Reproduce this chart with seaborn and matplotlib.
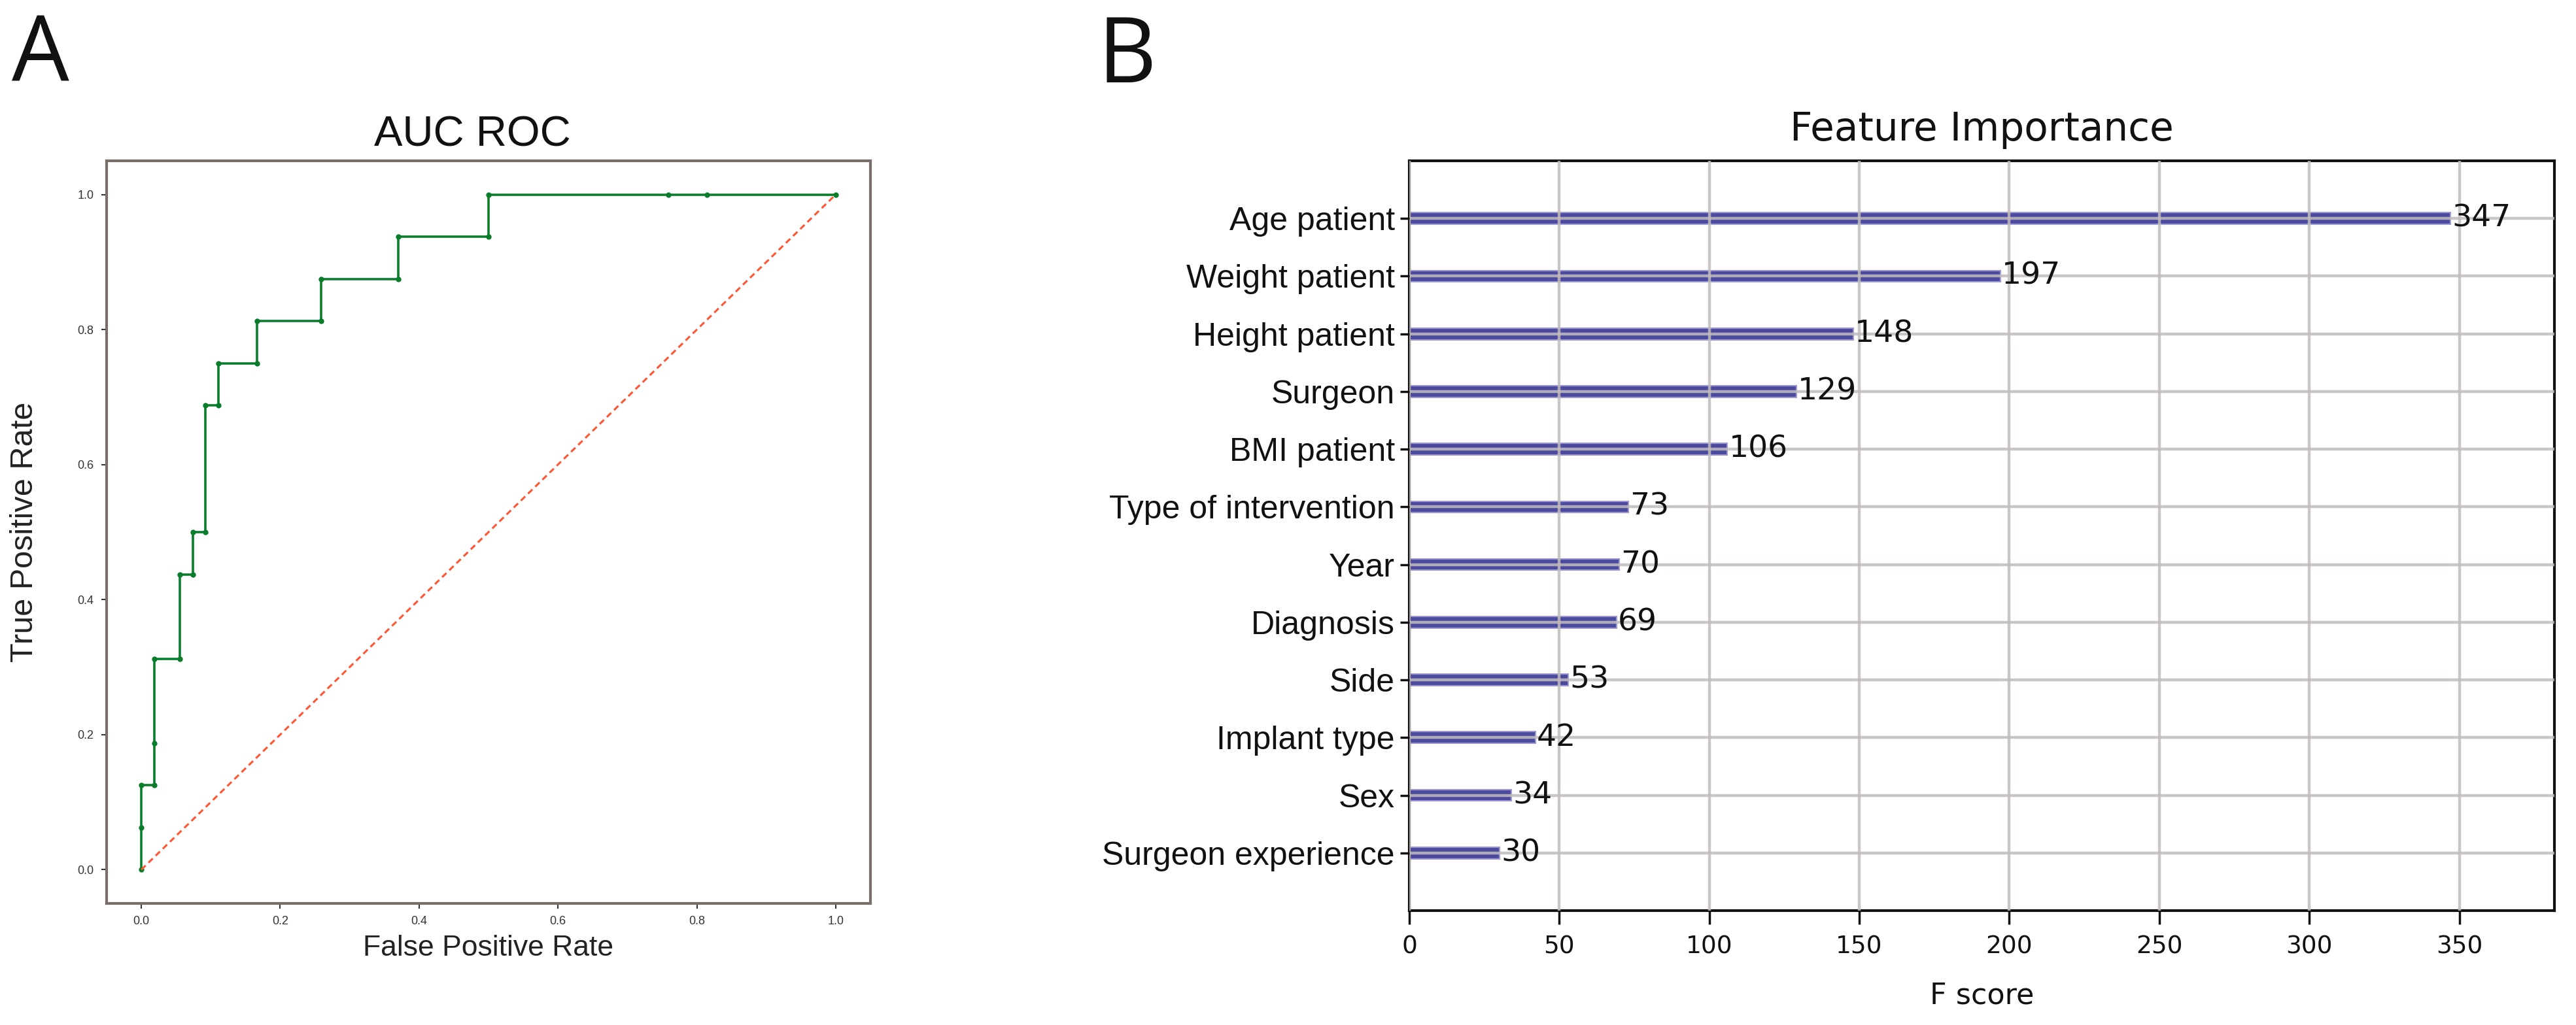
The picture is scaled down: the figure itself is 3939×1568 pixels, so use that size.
import numpy as np
import pandas as pd
import matplotlib
matplotlib.use("Agg")
import matplotlib.pyplot as plt
import seaborn as sns

# ---------------- data ----------------
fpr = [0.0, 0.0, 0.0, 0.0185, 0.0185, 0.0185, 0.0556, 0.0556, 0.0741, 0.0741,
       0.0926, 0.0926, 0.1111, 0.1111, 0.1667, 0.1667, 0.2593, 0.2593, 0.3704,
       0.3704, 0.5, 0.5, 0.7593, 0.8148, 1.0]
tpr = [0.0, 0.0625, 0.125, 0.125, 0.1875, 0.3125, 0.3125, 0.4375, 0.4375, 0.5,
       0.5, 0.6875, 0.6875, 0.75, 0.75, 0.8125, 0.8125, 0.875, 0.875,
       0.9375, 0.9375, 1.0, 1.0, 1.0, 1.0]
chance = [0.0, 1.0]

features = ["Age patient", "Weight patient", "Height patient", "Surgeon",
            "BMI patient", "Type of intervention", "Year", "Diagnosis", "Side",
            "Implant type", "Sex", "Surgeon experience"]
fscores = [347, 197, 148, 129, 106, 73, 70, 69, 53, 42, 34, 30]
xticks_b = [0, 50, 100, 150, 200, 250, 300, 350]
roc_ticks = [0.0, 0.2, 0.4, 0.6, 0.8, 1.0]

# ---------------- style ----------------
sns.set_style("white")
plt.rcParams["font.family"] = ["Liberation Sans", "DejaVu Sans"]

W, H = 3939, 1568
fig = plt.figure(figsize=(W / 100, H / 100), dpi=100)

# ---------------- panel A : ROC ----------------
ax1 = fig.add_axes([163 / W, (H - 1382) / H, 1168 / W, 1136 / H])
roc_df = pd.DataFrame({"fpr": fpr, "tpr": tpr})
sns.lineplot(data=roc_df, x="fpr", y="tpr", sort=False, estimator=None,
             color="#0a7d2c", linewidth=2.6, marker="o", markersize=6,
             markeredgewidth=0, ax=ax1)
sns.lineplot(x=chance, y=chance, color="#ff5533", linewidth=2.2,
             linestyle=(0, (3, 2)), ax=ax1)
ax1.set_xlim(-0.05, 1.05)
ax1.set_ylim(-0.05, 1.05)
ax1.set_xticks(roc_ticks)
ax1.set_yticks(roc_ticks)
ax1.set_xticklabels([f"{t:.1f}" for t in roc_ticks])
ax1.set_yticklabels([f"{t:.1f}" for t in roc_ticks])
ax1.tick_params(axis="both", labelsize=13, length=6, width=1.5,
                colors="#333333", direction="out", bottom=True, left=True, pad=8)
for sp in ax1.spines.values():
    sp.set_color("#7a6e6a")
    sp.set_linewidth(3)
ax1.set_title("AUC ROC", fontsize=47, pad=16, x=0.479, color="#111111")
ax1.set_xlabel("False Positive Rate", fontsize=32, color="#222222")
ax1.set_ylabel("True Positive Rate", fontsize=35, color="#222222")
ax1.xaxis.set_label_coords(0.5, -0.042)
ax1.yaxis.set_label_coords(-0.088, 0.5)

# ---------------- panel B : Feature importance ----------------
ax2 = fig.add_axes([2155 / W, (H - 1393) / H, 1751 / W, (1393 - 246) / H])
fi_df = pd.DataFrame({"feature": features, "score": fscores})
sns.barplot(data=fi_df, x="score", y="feature", orient="h", width=0.2,
            color="#4b4a9e", saturation=1, edgecolor="#9b99d0", linewidth=1.5,
            ax=ax2, zorder=1)
ax2.set_xlim(0, max(fscores) * 1.1)
ax2.set_ylim(len(features), -1)
ax2.set_xticks(xticks_b)
ax2.grid(True, axis="both", color="#c2bcbc", linewidth=3.2, alpha=0.85, zorder=3)
ax2.set_axisbelow(False)
for i, v in enumerate(fscores):
    ax2.text(v + 0.5, i, str(v), va="center", ha="left", fontsize=34,
             family="DejaVu Sans", color="#111111", zorder=5)
ax2.tick_params(axis="x", labelsize=27, length=15, width=2.5, direction="out",
                bottom=True, pad=12, colors="#111111")
ax2.tick_params(axis="y", labelsize=36, length=10, width=2.5, direction="out",
                left=True, pad=6, colors="#111111")
for lab in ax2.get_xticklabels():
    lab.set_family("DejaVu Sans")
for sp in ax2.spines.values():
    sp.set_color("#111111")
    sp.set_linewidth(3)
ax2.set_title("Feature Importance", fontsize=43, pad=22, family="DejaVu Sans",
              color="#111111")
ax2.set_xlabel("F score", fontsize=32, family="DejaVu Sans", color="#111111")
ax2.set_ylabel("")
ax2.xaxis.set_label_coords(0.5, -0.095)

# ---------------- panel letters ----------------
fig.text(18 / W, 1 - 125 / H, "A", fontsize=100, family=["Open Sans", "DejaVu Sans"],
         ha="left", va="baseline", color="#111111")
fig.text(1678 / W, 1 - 126 / H, "B", fontsize=100, family=["Open Sans", "DejaVu Sans"],
         ha="left", va="baseline", color="#111111")

fig.savefig("out.png", dpi=100, facecolor="white")
